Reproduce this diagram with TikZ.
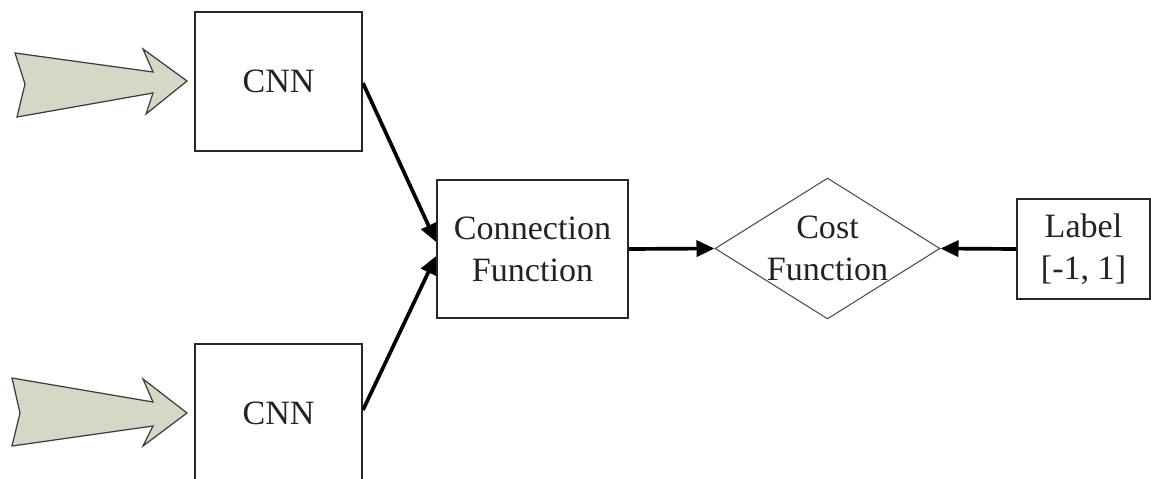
\documentclass[tikz,border=0pt]{standalone}
\usepackage{fontspec}
\setmainfont{Liberation Serif}
\usetikzlibrary{arrows.meta,shapes.geometric}
\definecolor{inputfill}{RGB}{214,216,199}
\definecolor{inputedge}{RGB}{60,60,60}
\definecolor{inktext}{RGB}{35,35,35}
\begin{document}
\begin{tikzpicture}[x=0.02cm,y=-0.02cm,
  txt/.style={font=\fontsize{19.4}{23.9}\selectfont, text=inktext, align=center},
  block/.style={draw=black!85, line width=1.1pt, rectangle, inner sep=0pt, txt},
  decision/.style={draw=black!70, line width=0.6pt, diamond, inner sep=0pt},
  inputarrow/.style={fill=inputfill, draw=inputedge, line width=0.7pt, line join=miter},
  flow/.style={line width=2.1pt, -{Triangle[length=0.36cm,width=0.32cm]}}
]
\useasboundingbox (0,0) rectangle (1151,479);
\clip (0,0) rectangle (1151,479);

% input arrows feeding the two networks
\draw[inputarrow] (15,53) -- (153,72) -- (143,49) -- (187,81) -- (146,114)
  -- (153,93) -- (17,117) -- (25,84) -- cycle;
\draw[inputarrow] (12,378) -- (153,402) -- (143,379) -- (187,413) -- (143,446)
  -- (153,426) -- (12,446) -- (20,413) -- cycle;

% blocks
\node[block, minimum width=3.34cm, minimum height=2.78cm] (cnn1) at (278.5,81.5) {CNN};
\node[block, minimum width=3.34cm, minimum height=2.78cm] (cnn2) at (278.5,413.5) {CNN};
\node[block, minimum width=3.82cm, minimum height=2.76cm] (conn) at (532.5,249) {Connection\\Function};
\node[decision, minimum width=4.5cm, minimum height=2.82cm] (cost) at (827.5,248.5) {};
\node[txt] (costtext) at (cost.center) {Cost\\Function};
\node[block, minimum width=2.66cm, minimum height=2.0cm] (label) at (1083.5,249) {Label\\{[}-1, 1{]}};

% connectors
\coordinate (in1) at ([yshift=0.14cm]conn.west);
\coordinate (in2) at ([yshift=-0.14cm]conn.west);
\draw[flow] ([yshift=-0.03cm]cnn1.east) -- (in1);
\draw[flow] ([yshift=0.07cm]cnn2.east) -- (in2);
\draw[flow] (conn.east) -- (cost.west);
\draw[flow] (label.west) -- (cost.east);
\end{tikzpicture}
\end{document}
